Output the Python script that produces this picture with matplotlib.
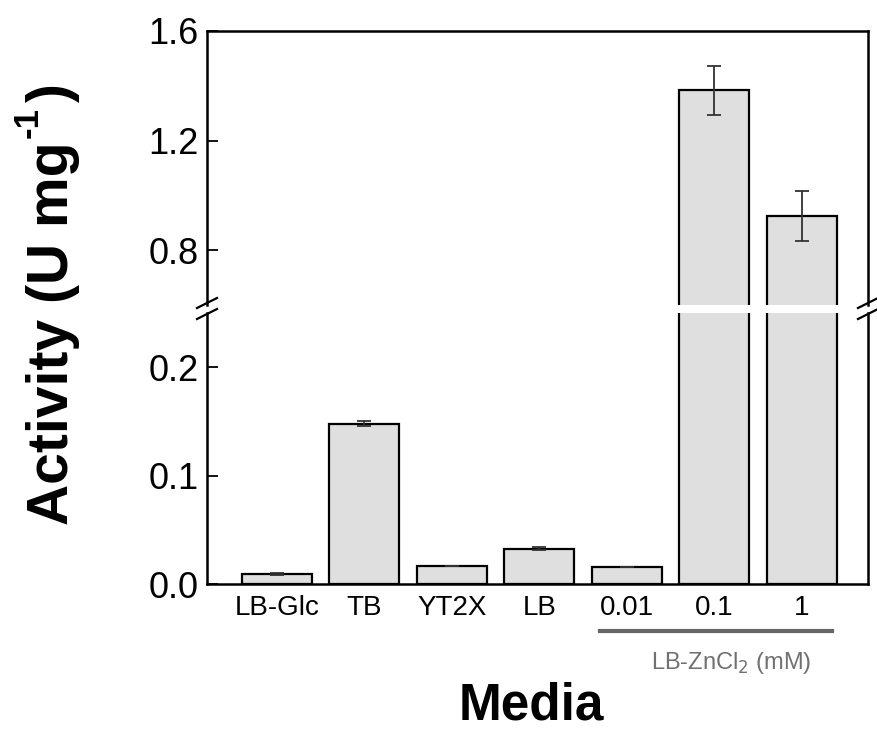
import matplotlib
matplotlib.use("Agg")
import matplotlib.pyplot as plt
from matplotlib.lines import Line2D

plt.rcParams['font.family'] = ['Liberation Sans', 'DejaVu Sans']

categories = ["LB-Glc", "TB", "YT2X", "LB", "0.01", "0.1", "1"]
activity = [0.009, 0.148, 0.0166, 0.0325, 0.016, 1.383, 0.925]
errors = [0.001, 0.002, 0.0, 0.0015, 0.0, 0.090, 0.090]
group_label = "LB-ZnCl$_2$ (mM)"
group_members = ["0.01", "0.1", "1"]
upper_ticks = [0.8, 1.2, 1.6]
lower_ticks = [0.0, 0.1, 0.2]

W, H = 877, 732
fig = plt.figure(figsize=(W / 100, H / 100), dpi=100)
left, right = 207 / W, 868 / W
ax_up = fig.add_axes([left, 1 - 305 / H, right - left, (305 - 31) / H])
ax_lo = fig.add_axes([left, 1 - 584 / H, right - left, (584 - 313) / H])

x = list(range(len(categories)))
for ax in (ax_up, ax_lo):
    ax.bar(x, activity, width=0.8, color="#dfdfdf", edgecolor="black",
           linewidth=1.6, zorder=2)
    ax.errorbar(x, activity, yerr=errors, fmt="none", ecolor="#333333",
                elinewidth=1.3, capsize=5, capthick=1.3, zorder=3)
    ax.set_xlim(-0.8, 6.76)
    for s in ax.spines.values():
        s.set_linewidth(1.8)
    ax.tick_params(axis="y", direction="in", length=8, width=1.3,
                   labelsize=26, pad=6)
    ax.tick_params(axis="x", length=0)

ax_up.set_ylim(0.6, 1.6)
ax_up.set_yticks(upper_ticks)
ax_up.set_yticklabels([f"{t:.1f}" for t in upper_ticks])
ax_up.spines["bottom"].set_visible(False)
ax_up.set_xticks([])

ax_lo.set_ylim(0.0, 0.25)
ax_lo.set_yticks(lower_ticks)
ax_lo.set_yticklabels([f"{t:.1f}" for t in lower_ticks])
ax_lo.spines["top"].set_visible(False)
ax_lo.set_xticks(x)
ax_lo.set_xticklabels(categories, fontsize=20)
ax_lo.tick_params(axis="x", pad=8)

# break marks
for xf in (left, right):
    for yp in (303, 314):
        yf = 1 - yp / H
        fig.add_artist(Line2D([xf - 10 / W, xf + 10 / W],
                              [yf - 5 / H, yf + 5 / H],
                              color="black", linewidth=1.6))

# group line and label
i0 = categories.index(group_members[0])
i1 = categories.index(group_members[-1])
trans = ax_lo.get_xaxis_transform()
ax_lo.add_artist(Line2D([i0 - 0.3, i1 + 0.35], [-0.175, -0.175], transform=trans,
                        color="#666666", linewidth=3, clip_on=False))
ax_lo.text((i0 + i1) / 2 + 0.2, -0.29, group_label, transform=trans,
           ha="center", va="center", fontsize=17, color="#707070")

# y label built from pieces so the superscript uses a hyphen
fig.canvas.draw()
renderer = fig.canvas.get_renderer()
xb = 68 / W
t1 = fig.text(xb, 1 - 525 / H, "Activity (U mg", rotation=90, rotation_mode="anchor",
              ha="left", va="baseline", fontsize=41, fontweight="bold")
bb = t1.get_window_extent(renderer)
y_top = bb.y1 / fig.dpi / fig.get_figheight()
t2 = fig.text(xb - 30 / W, y_top + 3 / H, "-1", rotation=90, rotation_mode="anchor",
              ha="left", va="baseline", fontsize=25, fontweight="bold")
bb2 = t2.get_window_extent(renderer)
y_top2 = bb2.y1 / fig.dpi / fig.get_figheight()
fig.text(xb, y_top2 + 6 / H, ")", rotation=90, rotation_mode="anchor",
         ha="left", va="baseline", fontsize=41, fontweight="bold")

fig.text(531 / W, 1 - 719 / H, "Media", ha="center", va="baseline", fontsize=37,
         fontweight="bold")

fig.savefig("out.png", dpi=100)
